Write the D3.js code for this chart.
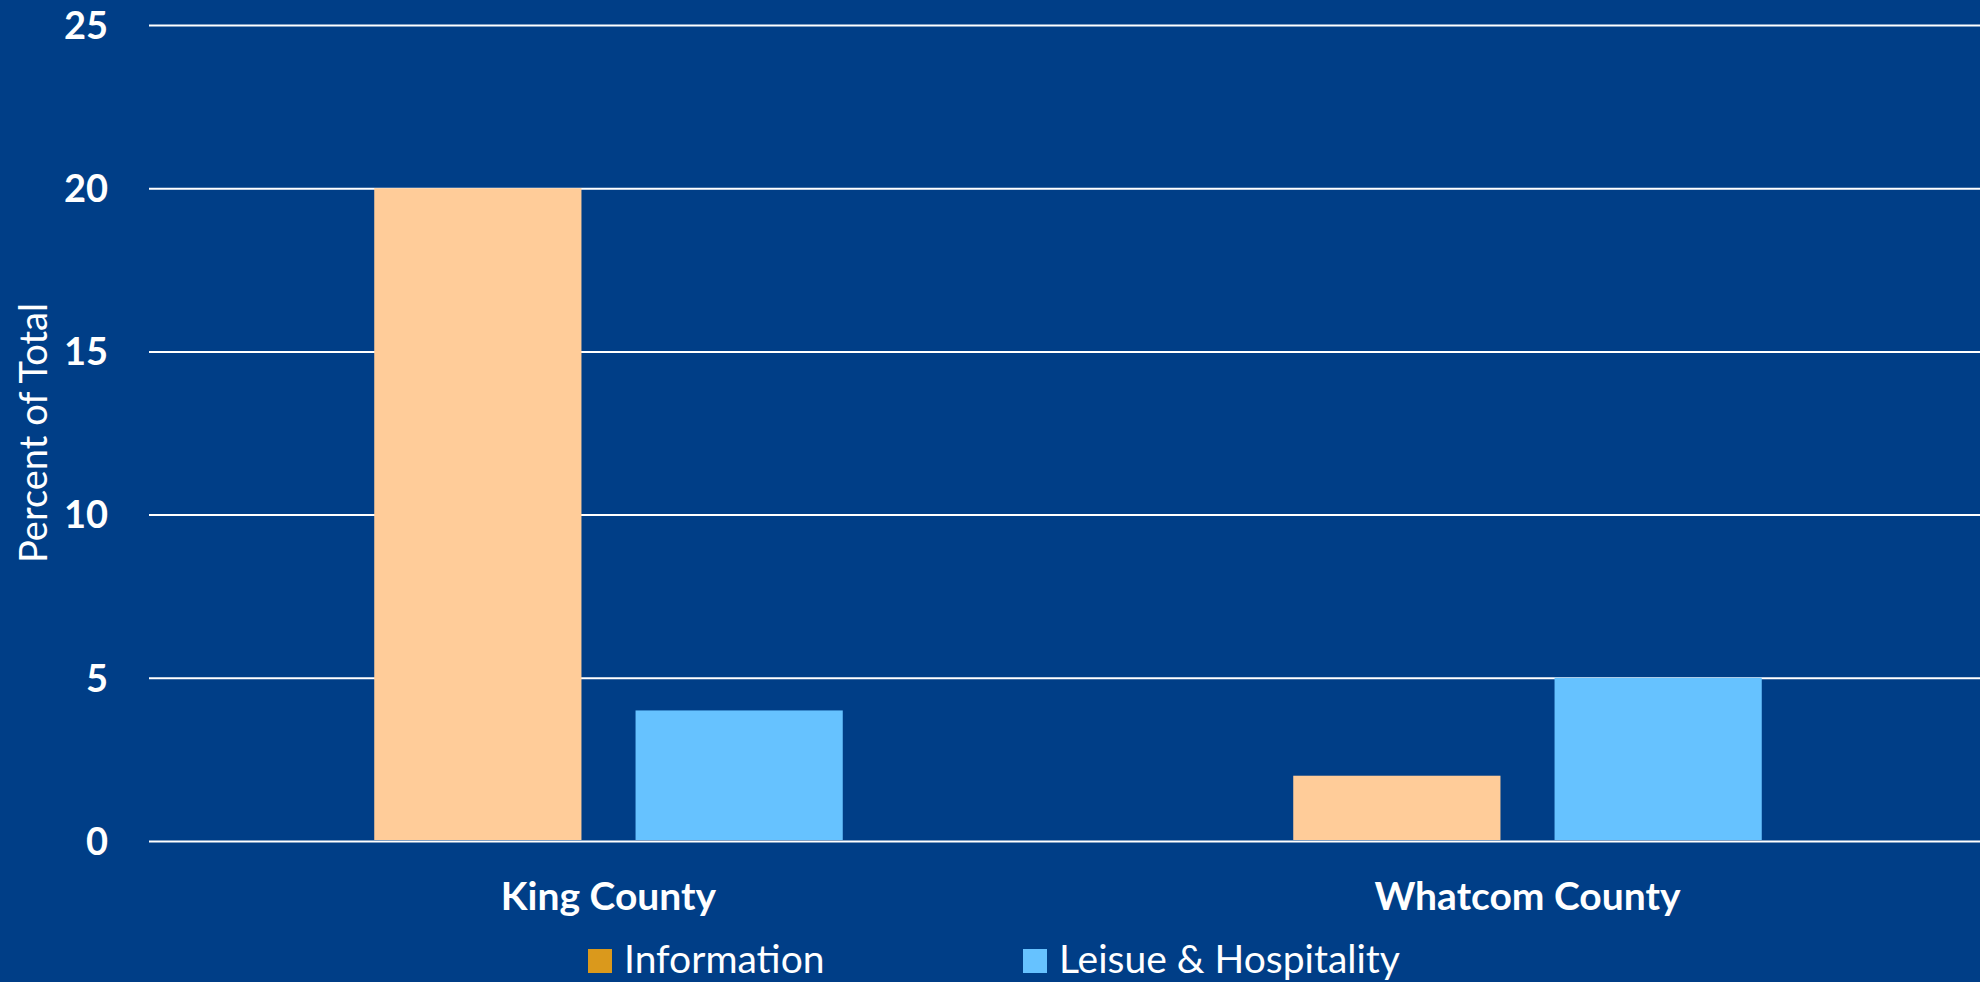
<!DOCTYPE html>
<html>
<head>
<meta charset="utf-8">
<script src="https://cdn.jsdelivr.net/npm/d3@7"></script>
<style>
html,body{margin:0;padding:0;background:#003E87;overflow:hidden;}
svg{display:block;}
</style>
</head>
<body>
<svg id="chart" width="1980" height="982"></svg>
<script>
const categories = ["King County", "Whatcom County"];
const seriesNames = ["Information", "Leisue & Hospitality"];
const informationValues = [20, 2];
const leisureValues = [4, 5];
const yTicks = [0, 5, 10, 15, 20, 25];
const barColors = ["#FFCC99", "#66C2FF"];
const legendColors = ["#DA991C", "#66C2FF"];

const W = 1980, H = 982;
const margin = {left: 149, right: -7, top: 25, bottom: 141};
const svg = d3.select("#chart");
svg.append("rect").attr("width", W).attr("height", H).attr("fill", "#003E87");

const x = d3.scaleBand().domain(categories).range([margin.left, W - margin.right]).paddingInner(0).paddingOuter(0);
const xs = d3.scaleBand().domain(seriesNames).range([0, x.bandwidth()]).paddingInner(0.207).paddingOuter(0.862);
const y = d3.scaleLinear().domain([0, 25]).range([H - margin.bottom, margin.top]);

// gridlines
const yAxis = d3.axisLeft(y).tickValues(yTicks).tickSize(-(W - margin.left - margin.right)).tickPadding(41).tickFormat(d3.format("d"));
const gy = svg.append("g").attr("transform", `translate(${margin.left},0)`).call(yAxis);
gy.select(".domain").remove();
gy.selectAll(".tick line").attr("stroke", "#FFFFFF").attr("stroke-width", 2);
gy.selectAll(".tick text").attr("fill", "#FFFFFF").attr("font-family", "Lato, 'Open Sans', sans-serif")
  .attr("font-weight", "bold").attr("font-size", 38).attr("dy", "0.35em");

// bars
const table = categories.map((c, i) => ({cat: c, vals: [informationValues[i], leisureValues[i]]}));
const groups = svg.append("g").selectAll("g").data(table).join("g")
  .attr("transform", d => `translate(${x(d.cat)},0)`);
groups.selectAll("rect").data(d => d.vals.map((v, j) => ({s: seriesNames[j], v, j}))).join("rect")
  .attr("x", d => xs(d.s))
  .attr("width", xs.bandwidth())
  .attr("y", d => y(d.v))
  .attr("height", d => y(0) - y(d.v) - 1)
  .attr("fill", d => barColors[d.j]);

// x axis labels
const xAxis = d3.axisBottom(x).tickSize(0).tickPadding(41);
const gx = svg.append("g").attr("transform", `translate(0,${y(0)})`).call(xAxis);
gx.select(".domain").remove();
gx.selectAll(".tick text").attr("fill", "#FFFFFF").attr("font-family", "Lato, 'Open Sans', sans-serif")
  .attr("font-weight", "bold").attr("font-size", 39).attr("dy", "0.71em");

// y axis title
svg.append("text").attr("transform", `translate(47,${(y(0)+y(25))/2}) rotate(-90)`)
  .attr("text-anchor", "middle").attr("fill", "#FFFFFF")
  .attr("font-family", "Lato, 'Open Sans', sans-serif").attr("font-size", 38)
  .text("Percent of Total");

// legend
const legendX = d3.scaleOrdinal().domain(seriesNames).range([588, 1023]);
const lg = svg.append("g").selectAll("g").data(seriesNames).join("g")
  .attr("transform", d => `translate(${legendX(d)},949)`);
lg.append("rect").attr("width", 24).attr("height", 24).attr("fill", (d, i) => legendColors[i]);
lg.append("text").attr("x", 36).attr("y", 24).attr("fill", "#FFFFFF")
  .attr("font-family", "Lato, 'Open Sans', sans-serif").attr("font-size", 39).text(d => d);
</script>
</body>
</html>
